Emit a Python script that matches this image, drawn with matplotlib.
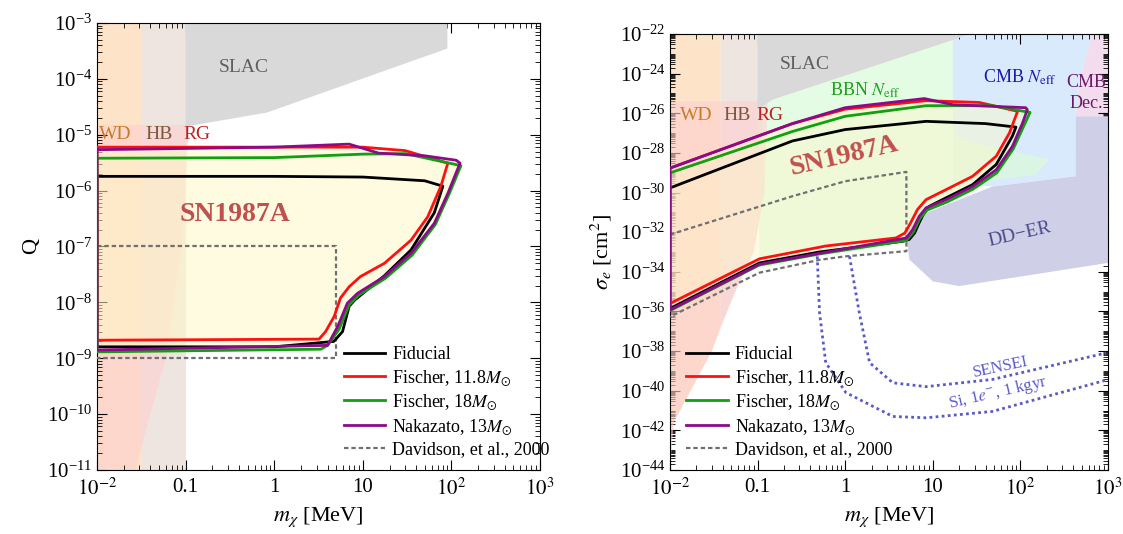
import numpy as np
import matplotlib
matplotlib.use("Agg")
import matplotlib.pyplot as plt
from matplotlib.ticker import LogLocator, NullFormatter, FixedLocator, FixedFormatter

plt.rcParams["font.family"] = ["Liberation Serif", "DejaVu Serif"]
plt.rcParams["mathtext.fontset"] = "stix"

# ---------------- left panel (Q) ----------------
L_fid_x = [0.01, 1, 10, 50, 80, 64, 35, 17.5, 8.1, 7, 5.9, 4.7, 1, 0.01]
L_fid_y = [1.8e-6, 1.8e-6, 1.75e-6, 1.5e-6, 1.2e-6, 4e-7, 8.7e-8, 3e-8, 1.1e-8, 8.5e-9, 3e-9, 2e-9, 1.6e-9, 1.6e-9]
L_f118_x = [0.01, 1, 10, 30, 91, 76, 54, 35, 17.5, 9.4, 7, 5.6, 4.75, 3.8, 3.2, 0.01]
L_f118_y = [6e-6, 6e-6, 6e-6, 5.2e-6, 3.1e-6, 1.2e-6, 3.4e-7, 1.3e-7, 5e-8, 2.9e-8, 1.9e-8, 1.2e-8, 5.6e-9, 3e-9,
            2.2e-9, 2.1e-9]
L_f18_x = [0.01, 1, 10, 30, 128, 95, 66, 36, 18, 9, 7, 5.4, 4.0, 3.35, 0.01]
L_f18_y = [3.8e-6, 3.9e-6, 4.5e-6, 4.6e-6, 2.8e-6, 9e-7, 2.5e-7, 7e-8, 2.7e-8, 1.35e-8, 9e-9, 3.3e-9, 1.7e-9, 1.45e-9,
           1.3e-9]
L_nak_x = [0.01, 1, 7, 15, 50, 113, 125, 91, 64, 35, 17.5, 8.7, 6.7, 5.2, 4.0, 0.01]
L_nak_y = [5.4e-6, 6e-6, 6.8e-6, 4.7e-6, 4.2e-6, 3.5e-6, 3.1e-6, 8.9e-7, 2.6e-7, 7.6e-8, 2.9e-8, 1.45e-8, 9.7e-9,
           3.7e-9, 1.7e-9, 1.4e-9]
L_dav_x = [0.01, 5, 5, 0.01]
L_dav_y = [1e-7, 1e-7, 1e-9, 1e-9]

L_slac_x = [0.1, 0.1, 0.83, 90, 90]
L_slac_y = [1e-3, 1.4e-5, 2.5e-5, 3.5e-4, 1e-3]
L_rg_x = [0.01, 0.11, 0.09, 0.06, 0.04, 0.027, 0.01]
L_rg_y = [1.5e-5, 1.5e-5, 1e-7, 1e-9, 1e-10, 1e-11, 1e-11]

# ---------------- right panel (sigma_e) ----------------
R_fid_x = [0.01, 0.25, 1, 8.4, 40, 89, 81, 53, 28.5, 14.2, 9.1, 7.8, 7.0, 6.2, 5.4, 4.6, 0.51, 0.105, 0.01]
R_fid_y = [1.7e-30, 4e-28, 1.5e-27, 3.9e-27, 3e-27, 2e-27, 6.9e-28, 2.6e-29, 2.5e-30, 5.4e-31, 2e-31, 7.8e-32, 3e-32,
           9e-33, 4.3e-33, 3.5e-33, 1e-33, 2.8e-34, 1.4e-36]
R_f118_x = [0.01, 0.25, 1, 8.4, 34, 93, 75, 53, 28.5, 14.2, 8.4, 6.7, 5.6, 4.8, 3.8, 0.6, 0.105, 0.01]
R_f118_y = [1.7e-29, 3e-27, 1.6e-26, 4.3e-26, 3.5e-26, 1.25e-26, 1e-27, 6.8e-29, 6.6e-30, 1.4e-30, 4.4e-31, 1.4e-31,
            3e-32, 9e-33, 5.1e-33, 2e-33, 4.5e-34, 2.5e-36]
R_f18_x = [0.01, 0.25, 1, 8.4, 48, 129, 110, 83, 54, 29, 14.5, 8.6, 7.1, 6.0, 5.0, 0.51, 0.105, 0.01]
R_f18_y = [9.8e-30, 1.2e-27, 7e-27, 2.4e-26, 2.4e-26, 1.1e-26, 2.4e-27, 1.6e-28, 1e-29, 1.5e-30, 3.3e-31, 1.3e-31,
           4.7e-32, 1e-32, 3.8e-33, 8e-34, 2.2e-34, 1.1e-36]
R_nak_x = [0.01, 0.25, 1, 8, 17, 115, 120, 106, 81, 53, 28.5, 14.2, 8.4, 7.0, 5.9, 5.0, 0.51, 0.105, 0.01]
R_nak_y = [1.7e-29, 3e-27, 1.9e-26, 5.5e-26, 2.7e-26, 1.9e-26, 1.5e-26, 3.2e-27, 2.1e-28, 1.4e-29, 2e-30, 4.4e-31,
           1.7e-31, 6.3e-32, 1.35e-32, 5.1e-33, 8.5e-34, 2.4e-34, 1.2e-36]
R_dav_x = [0.01, 0.25, 1, 5, 5, 1, 0.51, 0.105, 0.01]
R_dav_y = [7.6e-33, 6.5e-31, 3.7e-30, 1.1e-29, 1.1e-33, 6e-34, 4e-34, 9e-35, 5.4e-37]
sensei_x = [1.12, 1.45, 1.9, 3.5, 8.4, 48, 950]
sensei_y = [6e-34, 8.5e-37, 2.6e-39, 2.5e-40, 1.6e-40, 3.7e-40, 8e-39]
si_x = [0.48, 0.51, 0.6, 1.02, 3.5, 8.4, 48, 950]
si_y = [6e-34, 8.5e-37, 2.6e-39, 8e-41, 5e-42, 4.3e-42, 9e-42, 3.4e-40]

R_wd_x = [0.01, 0.038, 0.038, 0.03, 0.011, 0.01]
R_wd_y = [1e-22, 1e-22, 2e-37, 1e-38, 2.5e-42, 1e-43]
R_hb_x = [0.038, 0.1, 0.12, 0.09, 0.057, 0.038]
R_hb_y = [1e-22, 1e-22, 1e-30, 1e-33, 1.3e-35, 2e-37]
R_rg_x = [0.01, 0.13, 0.12, 0.09, 0.057, 0.03, 0.011, 0.01]
R_rg_y = [4e-26, 4e-26, 1e-30, 1e-33, 1.3e-35, 1e-38, 2.5e-42, 1e-44]
R_slac_x = [0.1, 0.1, 0.15, 20, 25]
R_slac_y = [1e-22, 1.5e-26, 4.9e-26, 6.3e-23, 1e-22]
R_bbn_x = [0.1, 0.15, 20, 17, 17, 30, 100, 214, 150, 48, 8.4, 5.2, 3.2, 0.51, 0.105, 0.1]
R_bbn_y = [1.5e-26, 4.9e-26, 6.3e-23, 6.3e-23, 1e-27, 3e-28, 1e-28, 4.6e-29, 8e-30, 4e-30, 9.4e-32, 1.35e-32,
           2e-33, 6e-34, 1.5e-34, 1.5e-26]
R_cmb_x = [17, 660, 470, 430, 427, 48, 17]
R_cmb_y = [1e-22, 1e-22, 3.4e-25, 7e-27, 6.6e-30, 2e-30, 3e-30]
R_dec_x = [660, 1000, 1000, 430, 470]
R_dec_y = [1e-22, 1e-22, 7e-27, 7e-27, 3.4e-25]
R_dd_x = [5.2, 8.4, 48, 427, 430, 1000, 1000, 20, 10, 5.4, 5]
R_dd_y = [1.35e-32, 9.4e-32, 2e-30, 6.6e-30, 7e-27, 7e-27, 2.8e-34, 1.9e-35, 3.3e-35, 4.2e-34, 6.3e-33]

C_FID, C_F118, C_F18, C_NAK, C_DAV = "black", "#ff1010", "#10a010", "#8a0a8a", "#707070"
SN_COL = "#c0504d"

fig = plt.figure(figsize=(11.23, 5.34), dpi=100)
axL = fig.add_axes([0.0864, 0.1199, 0.3945, 0.837])
axR = fig.add_axes([0.5966, 0.1199, 0.39, 0.8165])


def closed(x, y):
    return list(x) + [x[0]], list(y) + [y[0]]


def curves(ax, fid, f118, f18, nak, dav):
    for (x, y), c, lab in [(fid, C_FID, "Fiducial"), (f118, C_F118, r"Fischer, 11.8$M_{\odot}$"),
                           (f18, C_F18, r"Fischer, 18$M_{\odot}$"), (nak, C_NAK, r"Nakazato, 13$M_{\odot}$")]:
        cx, cy = closed(x, y)
        ax.plot(cx, cy, color=c, lw=2, label=lab, zorder=5, solid_joinstyle="round")
    ax.plot(dav[0], dav[1], color=C_DAV, lw=1.6, ls=(0, (2, 1.3)), label="Davidson, et al., 2000", zorder=4)


def style(ax):
    ax.set_xscale("log")
    ax.set_yscale("log")
    ax.set_xlim(1e-2, 1e3)
    ax.xaxis.set_major_locator(FixedLocator([1e-2, 0.1, 1, 10, 100, 1000]))
    ax.xaxis.set_major_formatter(FixedFormatter([r"$10^{-2}$", "0.1", "1", "10", r"$10^{2}$", r"$10^{3}$"]))
    ax.xaxis.set_minor_locator(LogLocator(base=10, subs=np.arange(2, 10), numticks=50))
    ax.xaxis.set_minor_formatter(NullFormatter())
    ax.tick_params(which="both", direction="in", top=True, right=True, labelsize=15)
    ax.tick_params(axis="x", pad=6)
    ax.tick_params(which="major", length=7)
    ax.tick_params(which="minor", length=3.5)
    ax.set_xlabel(r"$m_\chi$ [MeV]", fontsize=16)


# ---- left ----
ax = axL
ax.fill([0.01, 0.032, 0.032, 0.01], [1e-3, 1e-3, 1e-11, 1e-11], color="#fde3c8", lw=0, zorder=1)
ax.fill([0.032, 0.1, 0.1, 0.032], [1e-3, 1e-3, 1e-11, 1e-11], color="#efe5e0", lw=0, zorder=1)
ax.fill(L_rg_x, L_rg_y, color="#ffd0d0", alpha=0.6, lw=0, zorder=1.5)
ax.fill(L_slac_x, L_slac_y, color="#d9d9d9", lw=0, zorder=2)
ax.fill(L_nak_x, L_nak_y, color="#fff8c8", alpha=0.55, lw=0, zorder=3)
curves(ax, (L_fid_x, L_fid_y), (L_f118_x, L_f118_y), (L_f18_x, L_f18_y), (L_nak_x, L_nak_y), (L_dav_x, L_dav_y))
style(ax)
ax.set_ylim(1e-11, 1e-3)
ax.yaxis.set_major_locator(LogLocator(base=10, numticks=20))
ax.set_ylabel("Q", fontsize=16)
ax.text(0.016, 1e-5, "WD", color="#c87a28", fontsize=14, ha="center", va="center", zorder=6)
ax.text(0.05, 1e-5, "HB", color="#7a5a3a", fontsize=14, ha="center", va="center", zorder=6)
ax.text(0.135, 1e-5, "RG", color="#c0201f", fontsize=14, ha="center", va="center", zorder=6)
ax.text(0.45, 1.6e-4, "SLAC", color="#606060", fontsize=14, ha="center", va="center", zorder=6)
ax.text(0.36, 3.7e-7, "SN1987A", color=SN_COL, fontsize=20, fontweight="bold", ha="center", va="center", zorder=6)
ax.legend(loc="lower left", bbox_to_anchor=(0.52, -0.01), frameon=False, fontsize=13, handlelength=2.3,
          handletextpad=0.4, labelspacing=0.25)

# ---- right ----
ax = axR
ax.fill(R_wd_x, R_wd_y, color="#fde3c8", lw=0, zorder=1)
ax.fill(R_hb_x, R_hb_y, color="#efe5e0", lw=0, zorder=1)
ax.fill(R_cmb_x, R_cmb_y, color="#d8eafb", lw=0, zorder=1)
ax.fill(R_dec_x, R_dec_y, color="#f2dcee", lw=0, zorder=1)
ax.fill(R_bbn_x, R_bbn_y, color="#dcfadc", alpha=0.75, lw=0, zorder=1.5)
ax.fill(R_rg_x, R_rg_y, color="#ffd0d0", alpha=0.6, lw=0, zorder=1.6)
ax.fill(R_slac_x, R_slac_y, color="#d9d9d9", lw=0, zorder=2)
ax.fill(R_dd_x, R_dd_y, color="#cfd0e8", lw=0, zorder=2)
ax.fill(R_nak_x, R_nak_y, color="#fff8c8", alpha=0.45, lw=0, zorder=3)
curves(ax, (R_fid_x, R_fid_y), (R_f118_x, R_f118_y), (R_f18_x, R_f18_y), (R_nak_x, R_nak_y), (R_dav_x, R_dav_y))
ax.plot(sensei_x, sensei_y, color="#5a5ac8", lw=2, ls=(0, (1, 1.2)), zorder=4)
ax.plot(si_x, si_y, color="#5a5ac8", lw=2, ls=(0, (1, 1.2)), zorder=4)
style(ax)
ax.set_ylim(1e-44, 1e-22)
ax.yaxis.set_major_locator(LogLocator(base=100, numticks=20))
ax.yaxis.set_minor_locator(LogLocator(base=10, subs=np.arange(1, 10), numticks=100))
ax.yaxis.set_minor_formatter(NullFormatter())
ax.set_ylabel(r"$\sigma_e$ [cm$^2$]", fontsize=16)
ax.text(0.02, 7.6e-27, "WD", color="#c87a28", fontsize=14, ha="center", va="center", zorder=6)
ax.text(0.058, 7.6e-27, "HB", color="#7a5a3a", fontsize=14, ha="center", va="center", zorder=6)
ax.text(0.137, 7.6e-27, "RG", color="#c0201f", fontsize=14, ha="center", va="center", zorder=6)
ax.text(0.35, 2.8e-24, "SLAC", color="#606060", fontsize=14, ha="center", va="center", zorder=6)
ax.text(1.7, 1.5e-25, r"BBN $N_{\rm eff}$", color="#1aa01a", fontsize=13, ha="center", va="center", zorder=6)
ax.text(97, 6.8e-25, r"CMB $N_{\rm eff}$", color="#1a1aaa", fontsize=13, ha="center", va="center", zorder=6)
ax.text(560, 3.6e-25, "CMB", color="#6a1a6a", fontsize=13, ha="center", va="center", zorder=6)
ax.text(560, 3.1e-26, "Dec.", color="#6a1a6a", fontsize=13, ha="center", va="center", zorder=6)
ax.text(97, 7.6e-33, "DD\u2212ER", color="#4a4a8a", fontsize=14, rotation=13, ha="center", va="center", zorder=6)
ax.text(60, 1.6e-39, "SENSEI", color="#5a5ac8", fontsize=12, rotation=12, ha="center", va="center", zorder=6)
ax.text(55, 8e-41, r"Si, 1$e^{-}$, 1 kgyr", color="#5a5ac8", fontsize=12, rotation=13, ha="center", va="center",
        zorder=6)
ax.text(0.97, 6.8e-29, "SN1987A", color=SN_COL, fontsize=20, fontweight="bold", rotation=13, ha="center",
        va="center", zorder=6)
ax.legend(loc="lower left", bbox_to_anchor=(0.0, -0.01), frameon=False, fontsize=13, handlelength=2.3,
          handletextpad=0.4, labelspacing=0.25)

fig.savefig("out.png", dpi=100)
